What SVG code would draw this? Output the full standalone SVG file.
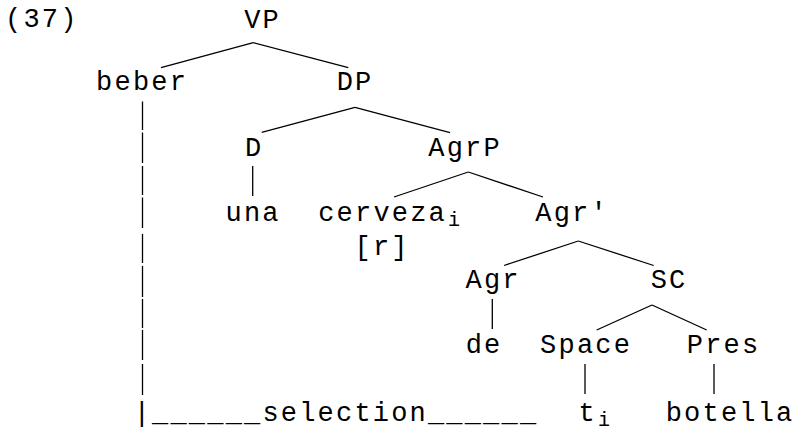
<svg xmlns="http://www.w3.org/2000/svg" width="795" height="432" viewBox="0 0 795 432">
<style>
text{font-family:"Liberation Mono","Courier New",monospace;font-size:27px;letter-spacing:2.2px;fill:#000;text-anchor:middle}
.sub{font-size:20px;letter-spacing:0;text-anchor:start}
.st{text-anchor:start}
line{stroke:#000;stroke-width:1.3;fill:none}
</style>
<rect width="795" height="432" fill="#fff"/>
<text class="st" x="5" y="27">(37)</text>
<g id="connectors">
<line x1="253.3" y1="42.7" x2="161" y2="67.7"/>
<line x1="253.3" y1="42.7" x2="348.3" y2="67.7"/>
<line x1="355" y1="107.3" x2="261.7" y2="132.3"/>
<line x1="355" y1="107.3" x2="450" y2="132.7"/>
<line x1="468.3" y1="172" x2="394" y2="197"/>
<line x1="468.3" y1="172" x2="543" y2="197"/>
<line x1="578.3" y1="241" x2="504" y2="265.5"/>
<line x1="578.3" y1="241" x2="653.7" y2="265.5"/>
<line x1="652" y1="305" x2="596.7" y2="330"/>
<line x1="652" y1="305" x2="706.7" y2="330"/>
<line x1="252.7" y1="166" x2="252.7" y2="196"/>
<line x1="492.3" y1="299" x2="492.3" y2="329"/>
<line x1="585" y1="364" x2="585" y2="394"/>
<line x1="714" y1="364" x2="714" y2="394"/>
<line x1="142.5" y1="101.5" x2="142.5" y2="130"/>
<line x1="142.5" y1="132.5" x2="142.5" y2="163"/>
<line x1="142.5" y1="166" x2="142.5" y2="195"/>
<line x1="142.5" y1="197.5" x2="142.5" y2="228"/>
<line x1="142.5" y1="234" x2="142.5" y2="263"/>
<line x1="142.5" y1="266" x2="142.5" y2="297"/>
<line x1="142.5" y1="299" x2="142.5" y2="328"/>
<line x1="142.5" y1="330" x2="142.5" y2="360"/>
<line x1="142.5" y1="364" x2="142.5" y2="395"/>
</g>
<g id="VP"><text x="262.6" y="28">VP</text></g>
<g id="beber"><text x="142.1" y="90">beber</text></g>
<g id="DP"><text x="355.1" y="90">DP</text></g>
<g id="D"><text x="254.1" y="156">D</text></g>
<g id="AgrP"><text x="465.1" y="156">AgrP</text></g>
<g id="una"><text x="253.1" y="221">una</text></g>
<g id="cerveza"><text x="382.6" y="221">cerveza</text><text class="sub" x="448" y="226">i</text></g>
<g id="r"><text x="382.1" y="255">[r]</text></g>
<g id="AgrBar"><text x="572.1" y="221">Agr'</text></g>
<g id="Agr"><text x="493.1" y="288">Agr</text></g>
<g id="SC"><text x="669.1" y="288">SC</text></g>
<g id="de"><text x="484.1" y="353">de</text></g>
<g id="Space"><text x="586.1" y="353">Space</text></g>
<g id="Pres"><text x="723.6" y="353">Pres</text></g>
<g id="t"><text x="587.8" y="421">t</text><text class="sub" x="598" y="426">i</text></g>
<g id="botella"><text x="730.1" y="421">botella</text></g>
<g id="selection"><text class="st" x="133.7" y="421" textLength="404.6" lengthAdjust="spacing">|______selection______</text></g>
</svg>
